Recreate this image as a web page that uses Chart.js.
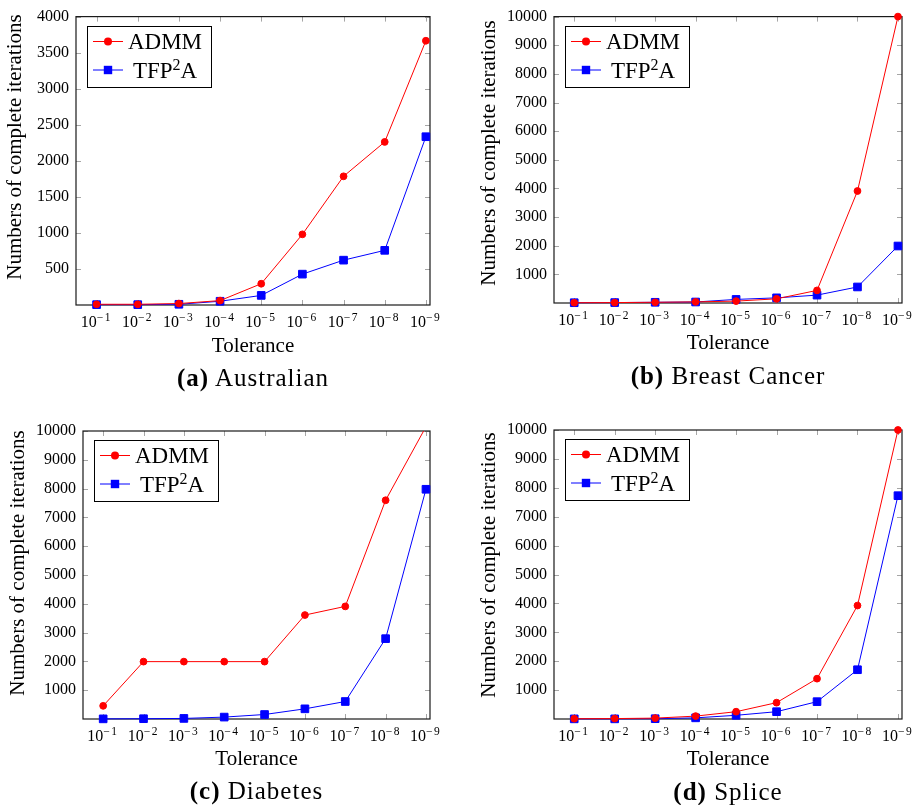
<!DOCTYPE html>
<html>
<head>
<meta charset="utf-8">
<script src="https://cdn.jsdelivr.net/npm/chart.js@4.4.1/dist/chart.umd.min.js"></script>
<style>
	body { margin: 0; background: #fff; width: 921px; height: 805px; overflow: hidden; position: relative; font-family: "Liberation Serif", serif; }
	canvas { position: absolute; }
	.caption { position: absolute; width: 400px; text-align: center; font-size: 25px; letter-spacing: 1px; line-height: 30px; color: #000; white-space: nowrap; }
</style>
</head>
<body>
<script>
// tolerance 10^-n, n taken from here
const tolerances = [1, 2, 3, 4, 5, 6, 7, 8, 9];
const seriesLabels = ["ADMM", "TFP²A"];

const australianAdmm = [10, 10, 20, 61, 295, 980, 1785, 2262, 3665];
const australianTfp = [5, 5, 10, 52, 133, 428, 622, 758, 2334];

const breastCancerAdmm = [10, 15, 25, 40, 66, 146, 440, 3910, 10000];
const breastCancerTfp = [10, 15, 25, 35, 125, 180, 275, 560, 1990];

const diabetesAdmm = [457, 1992, 1992, 1992, 1992, 3610, 3910, 7595, 10150];
const diabetesTfp = [5, 10, 20, 66, 156, 353, 607, 2790, 7977];

const spliceAdmm = [10, 15, 30, 100, 253, 565, 1396, 3926, 10000];
const spliceTfp = [5, 5, 10, 40, 128, 253, 600, 1705, 7727];

const yMaxima = [4000, 10000, 10000, 10000];
const yStepSizes = [500, 1000, 1000, 1000];
const captions = ["Australian", "Breast Cancer", "Diabetes", "Splice"];
const captionLetters = ["(a)", "(b)", "(c)", "(d)"];
const yTitle = "Numbers of complete iterations";

// page layout of the four panels
var panels = [
	{ box: { x: 0, y: 0, w: 460, h: 370 }, area: { l: 76, t: 11, r: 430, b: 305 }, yTitleAt: [15, 147], xTitleY: 346.5, captionY: 378, admm: australianAdmm, tfp: australianTfp, clip: false },
	{ box: { x: 460, y: 0, w: 461, h: 370 }, area: { l: 554, t: 14, r: 902, b: 303 }, yTitleAt: [489, 153], xTitleY: 343, captionY: 376, admm: breastCancerAdmm, tfp: breastCancerTfp, clip: false },
	{ box: { x: 0, y: 405, w: 460, h: 370 }, area: { l: 83, t: 431, r: 430, b: 719 }, yTitleAt: [18, 563], xTitleY: 759, captionY: 791, admm: diabetesAdmm, tfp: diabetesTfp, clip: 0 },
	{ box: { x: 460, y: 405, w: 461, h: 370 }, area: { l: 554, t: 430, r: 902, b: 719 }, yTitleAt: [489, 565], xTitleY: 759, captionY: 792, admm: spliceAdmm, tfp: spliceTfp, clip: false }
];

const serif = "'Liberation Serif', serif";

// writes text where ² comes out as a superscript, centered on cx
function drawSupText(ctx, text, cx, baseline, size, supSize, rise)
{
	var parts = [];
	for (const ch of text)
	{
		let sup = ch === "²";
		parts.push({ t: sup ? "2" : ch, sup: sup });
	}
	var total = 0;
	parts.forEach(function(p)
	{
		ctx.font = (p.sup ? supSize : size) + "px " + serif;
		p.w = ctx.measureText(p.t).width;
		total += p.w;
	});
	var x = cx - total / 2;
	ctx.textAlign = "left";
	ctx.textBaseline = "alphabetic";
	parts.forEach(function(p)
	{
		ctx.font = (p.sup ? supSize : size) + "px " + serif;
		ctx.fillText(p.t, x, p.sup ? baseline - rise : baseline);
		x += p.w;
	});
}

// pgfplots look: frame, inner ticks, 10^-n labels, y title and boxed legend
var pgfPlugin = {
	id: "pgfLook",
	beforeDatasetsDraw: function(chart)
	{
		var ctx = chart.ctx, a = chart.chartArea;
		var xs = chart.scales.x, ys = chart.scales.y;
		ctx.save();
		ctx.strokeStyle = "#a6a6a6";
		ctx.lineWidth = 1;
		ctx.beginPath();
		xs.ticks.forEach(function(t)
		{
			let x = Math.round(xs.getPixelForValue(t.value)) + 0.5;
			ctx.moveTo(x, a.top); ctx.lineTo(x, a.top + 5);
			ctx.moveTo(x, a.bottom); ctx.lineTo(x, a.bottom - 5);
		});
		ys.ticks.forEach(function(t)
		{
			if (t.value === 0) return;
			let y = Math.round(ys.getPixelForValue(t.value)) + 0.5;
			ctx.moveTo(a.left, y); ctx.lineTo(a.left + 5, y);
			ctx.moveTo(a.right, y); ctx.lineTo(a.right - 5, y);
		});
		ctx.stroke();
		ctx.strokeStyle = "#1a1a1a";
		ctx.lineWidth = 1.2;
		ctx.strokeRect(a.left, a.top, a.right - a.left, a.bottom - a.top);
		ctx.restore();
	},
	afterDraw: function(chart)
	{
		var ctx = chart.ctx, a = chart.chartArea;
		var xs = chart.scales.x;
		var p = chart.options.plugins.pgfLook;
		ctx.save();
		ctx.fillStyle = "#000";
		ctx.textBaseline = "alphabetic";
		ctx.textAlign = "left";

		// tick labels 10^-n
		xs.ticks.forEach(function(t)
		{
			let x = xs.getPixelForValue(t.value);
			ctx.font = "16px " + serif;
			let wBase = ctx.measureText("10").width;
			ctx.font = "11.5px " + serif;
			let wMinus = ctx.measureText("−").width;
			let wNum = ctx.measureText(String(t.value)).width;
			let x0 = x - 1 - (wBase + wMinus + 1.5 + wNum) / 2;
			ctx.font = "16px " + serif;
			ctx.fillText("10", x0, a.bottom + 21.5);
			ctx.font = "11.5px " + serif;
			ctx.fillText("−", x0 + wBase, a.bottom + 15.5);
			ctx.fillText(String(t.value), x0 + wBase + wMinus + 1.5, a.bottom + 15.5);
		});

		// y axis title, rotated
		ctx.save();
		ctx.translate(p.titleX, p.titleY);
		ctx.rotate(-Math.PI / 2);
		ctx.font = "21px " + serif;
		ctx.textAlign = "center";
		ctx.textBaseline = "middle";
		ctx.fillText(yTitle, 0, 0);
		ctx.restore();

		// legend
		var lx = Math.round(a.left) + 11, ly = Math.round(a.top) + 9;
		ctx.fillStyle = "#fff";
		ctx.fillRect(lx, ly, 124, 61);
		ctx.strokeStyle = "#000";
		ctx.lineWidth = 1;
		ctx.strokeRect(lx + 0.5, ly + 0.5, 124, 61);
		chart.data.datasets.forEach(function(ds, i)
		{
			let y = ly + 15.5 + i * 28.5;
			ctx.strokeStyle = ds.borderColor;
			ctx.lineWidth = 1;
			ctx.beginPath();
			ctx.moveTo(lx + 6, y); ctx.lineTo(lx + 36, y);
			ctx.stroke();
			ctx.fillStyle = ds.backgroundColor;
			if (ds.pointStyle === "circle")
			{
				ctx.beginPath();
				ctx.arc(lx + 21, y, 4, 0, Math.PI * 2);
				ctx.fill();
			}
			else
			{
				ctx.fillRect(lx + 21 - 4.2, y - 4.2, 8.4, 8.4);
			}
			ctx.fillStyle = "#000";
			drawSupText(ctx, ds.label, lx + 78, y + 7.8, 23, 16, 8);
		});
		ctx.restore();
	}
};

function makePanel(p, idx)
{
	var box = p.box, area = p.area;

	var canvas = document.createElement("canvas");
	canvas.width = box.w;
	canvas.height = box.h;
	canvas.style.left = box.x + "px";
	canvas.style.top = box.y + "px";
	document.body.appendChild(canvas);

	var cap = document.createElement("div");
	cap.className = "caption";
	cap.style.left = ((area.l + area.r) / 2 - 200) + "px";
	cap.style.top = (p.captionY - 15) + "px";
	var b = document.createElement("b");
	b.textContent = captionLetters[idx];
	cap.appendChild(b);
	cap.appendChild(document.createTextNode(" " + captions[idx]));
	document.body.appendChild(cap);

	new Chart(canvas, {
		type: "line",
		data: {
			datasets: [
				{
					label: seriesLabels[0],
					data: tolerances.map(function(n, i) { return { x: n, y: p.admm[i] }; }),
					borderColor: "#ff0000",
					backgroundColor: "#ff0000",
					borderWidth: 1,
					pointStyle: "circle",
					pointRadius: 3.4,
					pointBorderWidth: 1,
					clip: p.clip
				},
				{
					label: seriesLabels[1],
					data: tolerances.map(function(n, i) { return { x: n, y: p.tfp[i] }; }),
					borderColor: "#0000ff",
					backgroundColor: "#0000ff",
					borderWidth: 1,
					pointStyle: "rect",
					pointRadius: 5.4,
					pointBorderWidth: 1,
					clip: false
				}
			]
		},
		options: {
			responsive: false,
			animation: false,
			devicePixelRatio: 1,
			events: [],
			layout: { padding: { left: 0, top: area.t - box.y, right: box.x + box.w - area.r, bottom: 0 } },
			plugins: {
				legend: { display: false },
				tooltip: { enabled: false },
				pgfLook: { titleX: p.yTitleAt[0] - box.x, titleY: p.yTitleAt[1] - box.y }
			},
			scales: {
				x: {
					type: "linear",
					min: 0.5,
					max: 9.1,
					afterBuildTicks: function(s) { s.ticks = tolerances.map(function(v) { return { value: v }; }); },
					afterFit: function(s) { s.height = box.y + box.h - area.b; },
					ticks: { display: false },
					grid: { display: false, drawTicks: false },
					border: { display: false },
					title: { display: true, text: "Tolerance", color: "#000", font: { family: serif, size: 21 }, padding: { top: 0, bottom: box.y + box.h - p.xTitleY - 12.6 } }
				},
				y: {
					min: 0,
					max: yMaxima[idx],
					afterFit: function(s) { s.width = area.l - box.x; },
					ticks: {
						stepSize: yStepSizes[idx],
						color: "#000",
						padding: 7,
						font: { family: serif, size: 16 },
						callback: function(v) { return v === 0 ? "" : String(v); }
					},
					grid: { display: false, drawTicks: false },
					border: { display: false }
				}
			}
		},
		plugins: [pgfPlugin]
	});
}

panels.forEach(makePanel);
</script>
</body>
</html>
